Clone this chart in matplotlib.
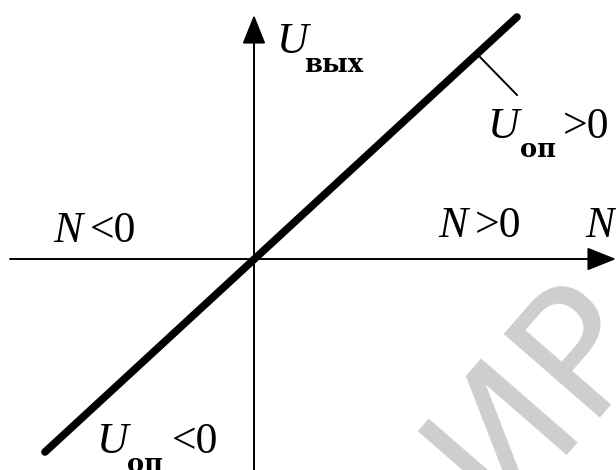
import matplotlib
matplotlib.use("Agg")
import matplotlib.pyplot as plt

# transfer characteristic U_out = k*N (schematic units)
n_line = [-209, 263]
u_line = [-193, 242]

# marker stroke pointing to U_op > 0
tick_n = [224, 263]
tick_u = [204, 164]

serif = "Liberation Serif"
big = 31.5
sub = 18.5

fig = plt.figure(figsize=(6.16, 4.70), dpi=100)
ax = fig.add_axes([0, 0, 1, 1])
ax.set_xlim(-254, 362)
ax.set_ylim(-211, 259)
ax.axis("off")

# watermark
ax.text(243, -256, "ИР", fontsize=126, color="#cecece", family="DejaVu Sans",
        rotation=49, rotation_mode="anchor", ha="left", va="baseline", zorder=0)

# axes with arrows
arr = dict(arrowstyle="-|>,head_length=1.0,head_width=0.4", lw=1.4, color="k",
           mutation_scale=18, shrinkA=0, shrinkB=0)
ax.annotate("", xy=(0, 244), xytext=(0, -215), arrowprops=arr, zorder=2)
ax.annotate("", xy=(362, 0), xytext=(-244, 0), arrowprops=arr, zorder=2)

ax.plot(n_line, u_line, color="k", lw=5.5, solid_capstyle="round", zorder=3)
ax.plot(tick_n, tick_u, color="k", lw=1.4, zorder=3)

def txt(x, y, s, style="italic", weight="normal", size=big, fam=serif):
    ax.text(x, y, s, fontsize=size, family=fam, style=style, weight=weight,
            ha="left", va="baseline", zorder=4)

def subs(x, y, s):
    txt(x, y, s, style="normal", weight="bold", size=sub, fam="DejaVu Serif")

# U_out
txt(23, 206, "U")
subs(50, 187, "вых")

# U_op > 0
txt(234, 121, "U")
subs(266, 102, "оп")
txt(309, 121, ">0", style="normal")

# N < 0
txt(-201, 17, "N")
txt(-164, 17, "<0", style="normal")

# N > 0
txt(184, 22, "N")
txt(221, 22, ">0", style="normal")

# axis label N
txt(331, 22, "N")

# U_op < 0
txt(-157, -194, "U")
subs(-127, -213, "оп")
txt(-82, -194, "<0", style="normal")

fig.savefig("out.png", dpi=100)
